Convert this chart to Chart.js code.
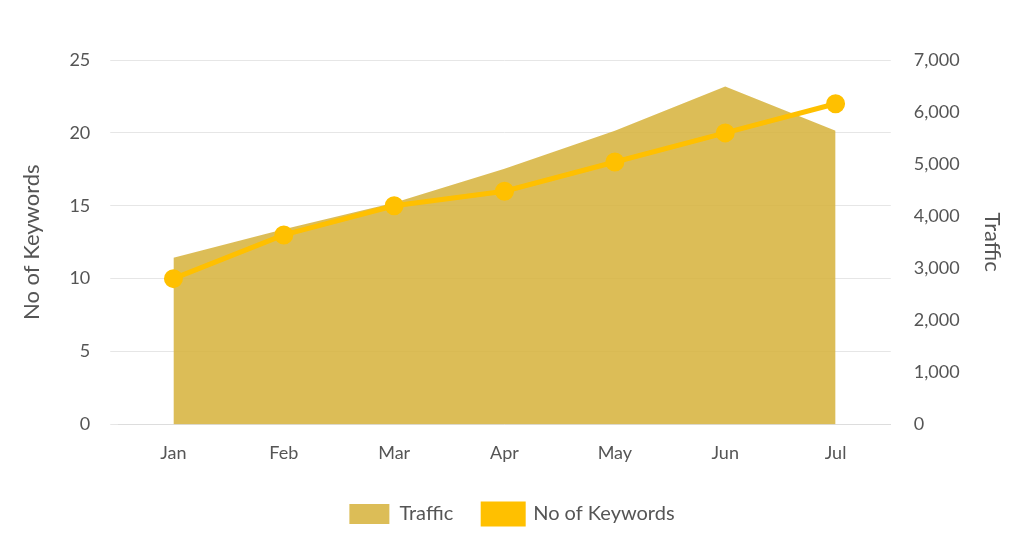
<!DOCTYPE html>
<html>
<head>
<meta charset="utf-8">
<script src="https://cdn.jsdelivr.net/npm/chart.js@4"></script>
<style>
  body { margin: 0; background: #fff; }
</style>
</head>
<body>
<canvas id="chart" width="1024" height="544"></canvas>
<script>
const months = ['Jan', 'Feb', 'Mar', 'Apr', 'May', 'Jun', 'Jul'];
const keywords = [10, 13, 15, 16, 18, 20, 22];
const traffic = [3200, 3750, 4260, 4910, 5640, 6490, 5640];

Chart.defaults.font.family = "Lato, 'Noto Sans', sans-serif";
Chart.defaults.font.size = 18;
Chart.defaults.color = '#555';

new Chart(document.getElementById('chart').getContext('2d'), {
    data: {
        labels: months,
        datasets: [
            {
                type: 'line',
                label: 'No of Keywords',
                data: keywords,
                yAxisID: 'y',
                borderColor: 'rgb(255, 192, 0)',
                backgroundColor: 'rgb(255, 192, 0)',
                borderWidth: 5,
                pointRadius: 7,
                pointHoverRadius: 7,
                fill: false,
                order: 1
            },
            {
                type: 'line',
                label: 'Traffic',
                data: traffic,
                yAxisID: 'y1',
                borderWidth: 0,
                borderColor: 'rgba(0,0,0,0)',
                backgroundColor: 'rgba(214, 178, 58, 0.85)',
                pointRadius: 0,
                fill: 'origin',
                order: 2
            }
        ]
    },
    options: {
        responsive: false,
        animation: false,
        layout: { padding: { left: 15, right: 15, top: 60, bottom: 10 } },
        plugins: {
            legend: {
                position: 'bottom',
                reverse: true,
                labels: { color: '#555', font: { size: 20 }, padding: 30 }
            },
            tooltip: { enabled: false }
        },
        scales: {
            x: {
                offset: true,
                grid: { display: false },
                border: { color: '#ddd' },
                ticks: { padding: 10 }
            },
            y: {
                position: 'left',
                min: 0, max: 25,
                ticks: { stepSize: 5, padding: 20 },
                grid: { color: '#e6e6e6' },
                border: { display: false },
                title: { display: true, text: 'No of Keywords', font: { size: 22 } }
            },
            y1: {
                position: 'right',
                min: 0, max: 7000,
                ticks: { stepSize: 1000, padding: 15 },
                grid: { display: false },
                border: { display: false },
                title: { display: true, text: 'Traffic', font: { size: 22 } }
            }
        }
    }
});
</script>
</body>
</html>
